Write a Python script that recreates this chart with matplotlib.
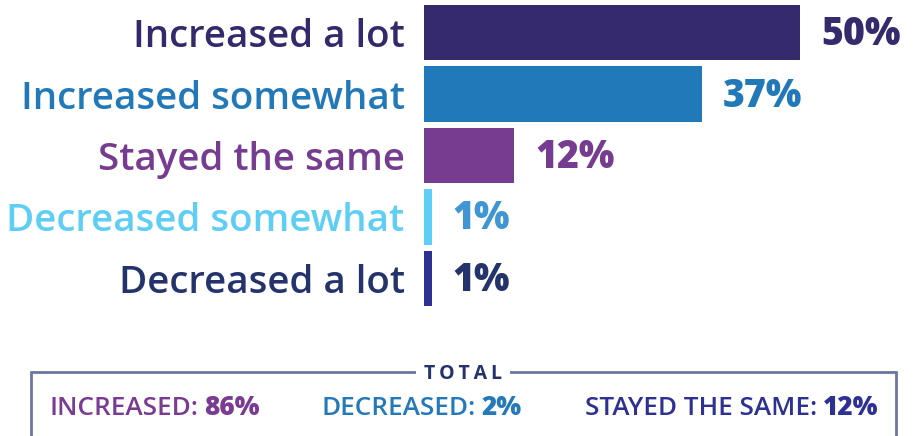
import matplotlib
matplotlib.use("Agg")
import matplotlib.pyplot as plt
from matplotlib.patches import Rectangle

plt.rcParams['font.family'] = ['Open Sans', 'DejaVu Sans']

# survey answers, top to bottom
categories = ["Increased a lot", "Increased somewhat", "Stayed the same",
              "Decreased somewhat", "Decreased a lot"]
values = [50, 37, 12, 1, 1]
bar_colors = ["#352a6b", "#2279b9", "#763c90", "#5fcef5", "#2e3192"]
label_colors = ["#33296b", "#2279b9", "#763c90", "#5fcef5", "#24336b"]
value_colors = ["#352a6b", "#2279b9", "#763c90", "#3f96d2", "#24336b"]

# totals shown in the box underneath
total_names = ["INCREASED:", "DECREASED:", "STAYED THE SAME:"]
total_values = ["86%", "2%", "12%"]
total_colors = ["#7a3b92", "#2479b9", "#2e3192"]

W, H = 916, 436
fig = plt.figure(figsize=(W / 100, H / 100), dpi=100)


def fx(px):
    return px / W


def fy(py):
    return 1 - py / H


ax = fig.add_axes([fx(424), fy(309), fx(376), 307 / H])
ypos = list(range(len(categories)))
ax.barh(ypos, values, height=0.9, color=bar_colors)
ax.set_xlim(0, 50)
ax.set_ylim(len(categories) - 0.5, -0.5)
ax.axis("off")

for y, cat, v, lc, vc in zip(ypos, categories, values, label_colors, value_colors):
    ax.annotate(cat, xy=(0, y), xytext=(-14, -10.5), textcoords="offset points",
                ha="right", va="baseline", fontsize=27.7, color=lc,
                fontweight="semibold", annotation_clip=False)
    ax.annotate(f"{v}%", xy=(v, y), xytext=(15, -9), textcoords="offset points",
                ha="left", va="baseline", fontsize=27, color=vc,
                fontweight="heavy", annotation_clip=False)

# open-bottomed frame for the totals
frame = Rectangle((fx(31), fy(450)), fx(896) - fx(31), fy(372) - fy(450),
                  transform=fig.transFigure, fill=False,
                  edgecolor="#6b77a0", linewidth=2, clip_on=False)
fig.add_artist(frame)
fig.text(fx(463), fy(374), "T\u2009O\u2009T\u2009A\u2009L", ha="center", va="center",
         fontsize=14, fontweight="bold", color="#24336b",
         bbox=dict(facecolor="white", edgecolor="none", pad=6))

starts = [50, 322, 585]
for x0, name, val, col in zip(starts, total_names, total_values, total_colors):
    t = fig.text(fx(x0), fy(421), name, ha="left", va="bottom",
                 fontsize=18.8, color=col, fontweight="semibold")
    plt.annotate(val, xy=(1, 0), xycoords=t, xytext=(4, 0),
                 textcoords="offset points", ha="left", va="bottom",
                 fontsize=18.8, fontweight="heavy", color=col)

fig.savefig("out.png", dpi=100)
